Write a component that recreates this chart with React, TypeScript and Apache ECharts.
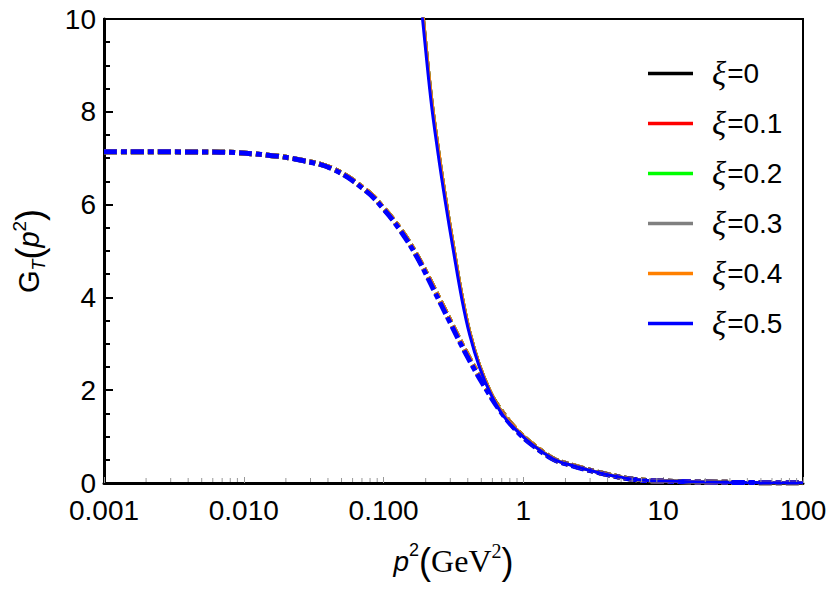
import React, { useEffect, useRef } from 'react';
import * as echarts from 'echarts';

// ---- data ----
const xiLabels = ['ξ=0', 'ξ=0.1', 'ξ=0.2', 'ξ=0.3', 'ξ=0.4', 'ξ=0.5'];
const xiColors = ['#000000', '#ff0000', '#00ff00', '#808080', '#ff8000', '#0000ff'];

// solid curves (p^2 in GeV^2)
const pSolid = [0.176, 0.19, 0.218, 0.243, 0.275, 0.315, 0.364, 0.413, 0.483, 0.579, 0.711, 0.896, 1.177, 1.637, 1.92, 3.53, 6.08, 10, 31.6, 100];
const gSolidXi0to04 = [11.29, 10.2, 8.41, 7.33, 6.23, 5.14, 4.04, 3.26, 2.56, 1.98, 1.5, 1.15, 0.82, 0.52, 0.44, 0.22, 0.082, 0.042, 0.013, 0.003];
const gSolidXi05 = [11.05, 10.0, 8.25, 7.18, 6.1, 5.02, 3.94, 3.19, 2.51, 1.94, 1.47, 1.13, 0.81, 0.515, 0.435, 0.217, 0.081, 0.041, 0.013, 0.003];

// dash-dotted curves
const pDash = [0.001, 0.00675, 0.0154, 0.0252, 0.0435, 0.0757, 0.0995, 0.131, 0.1725, 0.2267, 0.2985, 0.393, 0.5167, 0.6801, 0.8956, 1.1774, 1.6366, 1.92, 3.53, 6.08, 10, 31.6, 100];
const gDashXi0to04 = [7.14, 7.13, 7.06, 6.965, 6.77, 6.3, 5.93, 5.48, 4.91, 4.22, 3.5, 2.79, 2.16, 1.59, 1.14, 0.82, 0.52, 0.44, 0.22, 0.082, 0.041, 0.013, 0.003];
const gDashXi05 = [7.14, 7.13, 7.06, 6.96, 6.76, 6.28, 5.91, 5.45, 4.88, 4.18, 3.46, 2.75, 2.12, 1.56, 1.12, 0.8, 0.51, 0.43, 0.215, 0.08, 0.041, 0.013, 0.003];

const xTickLabels = ['0.001', '0.010', '0.100', '1', '10', '100'];
const yTickLabels = ['0', '2', '4', '6', '8', '10'];

export default function App() {
  const ref = useRef<HTMLDivElement>(null);
  useEffect(() => {
    const chart = echarts.init(ref.current!, null, { renderer: 'svg' });
    const sans = '"Liberation Sans", Arial, Helvetica, sans-serif';
    const serif = '"Liberation Serif", "Times New Roman", serif';

    const series: any[] = [];
    xiLabels.forEach((name, i) => {
      const vals = i === 5 ? gDashXi05 : gDashXi0to04;
      series.push({
        name: 'dash ' + name,
        type: 'line',
        data: pDash.map((p, k) => [p, vals[k]]),
        symbol: 'none',
        showSymbol: false,
        smooth: 0.4,
        silent: true,
        z: 2,
        itemStyle: { color: xiColors[i] },
        lineStyle: { color: xiColors[i], width: 5, type: [13, 4, 6, 4], cap: 'butt' },
      });
    });
    xiLabels.forEach((name, i) => {
      const vals = i === 5 ? gSolidXi05 : gSolidXi0to04;
      series.push({
        name,
        type: 'line',
        data: pSolid.map((p, k) => [p, vals[k]]),
        symbol: 'none',
        showSymbol: false,
        smooth: 0.4,
        silent: true,
        z: 3,
        itemStyle: { color: xiColors[i] },
        lineStyle: { color: xiColors[i], width: 3 },
      });
    });

    // logarithmic minor ticks on the bottom axis (2..9 of each decade)
    const minorTicks: number[][] = [];
    [0.001, 0.01, 0.1, 1, 10].forEach((d) => {
      for (let m = 2; m <= 9; m++) minorTicks.push([d * m, 0]);
    });
    series.push({
      type: 'custom',
      silent: true,
      z: 10,
      data: minorTicks,
      encode: { x: 0, y: 1 },
      renderItem: (_params: any, api: any) => {
        const pt = api.coord([api.value(0), 0]);
        return {
          type: 'line',
          shape: { x1: pt[0], y1: pt[1] - 1, x2: pt[0], y2: pt[1] - 5 },
          style: { stroke: '#999999', lineWidth: 1 },
        };
      },
    });

    chart.setOption({
      animation: false,
      backgroundColor: '#ffffff',
      grid: {
        left: 104,
        top: 19,
        right: 27,
        bottom: 113,
        show: true,
        borderColor: '#000000',
        borderWidth: 2,
        backgroundColor: 'transparent',
      },
      legend: {
        data: xiLabels,
        orient: 'vertical',
        left: 648,
        top: 57,
        padding: 0,
        icon: 'rect',
        itemWidth: 45,
        itemHeight: 3.5,
        itemGap: 17,
        selectedMode: false,
        formatter: (name: string) => '{i|ξ}{n|' + name.slice(1) + '}',
        textStyle: {
          fontFamily: sans,
          fontSize: 28,
          color: '#000',
          lineHeight: 30,
          rich: {
            i: { fontFamily: serif, fontStyle: 'italic', fontSize: 33, lineHeight: 30, padding: [0, 1, 0, 14], color: '#000' },
            n: { fontFamily: sans, fontSize: 28, lineHeight: 30, color: '#000' },
          },
        },
      },
      xAxis: {
        type: 'log',
        logBase: 10,
        min: 0.001,
        max: 100,
        splitNumber: 5,
        name: '{i|p}{sup|2}{n|(}{s|GeV}{ssup|2}{n|)}',
        nameLocation: 'middle',
        nameGap: 58,
        nameTextStyle: {
          color: '#000',
          fontFamily: sans,
          fontSize: 28,
          rich: {
            i: { fontFamily: sans, fontStyle: 'italic', fontSize: 28, lineHeight: 40, color: '#000' },
            sup: { fontFamily: sans, fontSize: 18, lineHeight: 22, verticalAlign: 'top', color: '#000' },
            n: { fontFamily: sans, fontSize: 36, lineHeight: 40, color: '#000' },
            s: { fontFamily: serif, fontSize: 32, lineHeight: 40, color: '#000' },
            ssup: { fontFamily: serif, fontSize: 20, lineHeight: 22, verticalAlign: 'top', color: '#000' },
          },
        },
        axisLine: { show: true, lineStyle: { color: '#000', width: 3 } },
        axisTick: { show: true, inside: true, length: 6, lineStyle: { color: '#999999', width: 1 } },
        minorTick: { show: false },
        splitLine: { show: false },
        axisLabel: {
          color: '#000',
          fontFamily: sans,
          fontSize: 28,
          margin: 13,
          formatter: (v: number) => xTickLabels[Math.round(Math.log10(v)) + 3] ?? '',
        },
      },
      yAxis: {
        type: 'value',
        min: 0,
        max: 10,
        interval: 2,
        name: '{g|G}{sub|T}{n|(}{i|p}{sup|2}{n|)}',
        nameLocation: 'middle',
        nameRotate: 90,
        nameGap: 56,
        nameTextStyle: {
          color: '#000',
          fontFamily: sans,
          fontSize: 28,
          rich: {
            g: { fontFamily: sans, fontSize: 29, lineHeight: 38, color: '#000' },
            sub: { fontFamily: sans, fontStyle: 'italic', fontSize: 18, lineHeight: 24, verticalAlign: 'bottom', color: '#000' },
            n: { fontFamily: sans, fontSize: 36, lineHeight: 38, color: '#000' },
            i: { fontFamily: sans, fontStyle: 'italic', fontSize: 29, lineHeight: 38, color: '#000' },
            sup: { fontFamily: sans, fontSize: 19, lineHeight: 22, verticalAlign: 'top', color: '#000' },
          },
        },
        axisLine: { show: true, lineStyle: { color: '#000', width: 3 } },
        axisTick: { show: true, inside: true, length: 9, lineStyle: { color: '#000', width: 2 } },
        minorTick: { show: true, splitNumber: 4, length: 6, lineStyle: { color: '#000', width: 2 } },
        splitLine: { show: false },
        minorSplitLine: { show: false },
        axisLabel: {
          color: '#000',
          fontFamily: sans,
          fontSize: 28,
          margin: 8,
          formatter: (v: number) => yTickLabels[Math.round(v / 2)] ?? '',
        },
      },
      series,
    });
    return () => chart.dispose();
  }, []);
  return (
    <div
      ref={ref}
      style={{ position: 'fixed', left: 0, top: 0, width: 830, height: 596, background: '#fff' }}
    />
  );
}
